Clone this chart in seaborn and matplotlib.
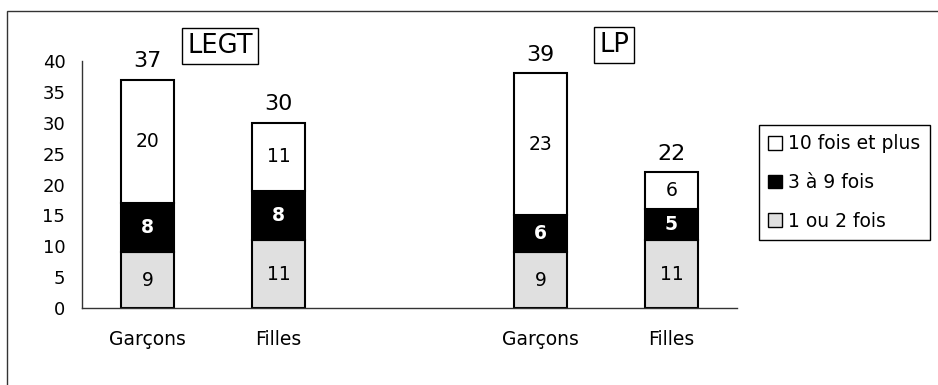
import numpy as np
import pandas as pd
import matplotlib.pyplot as plt
import seaborn as sns
from matplotlib.patches import Patch, Rectangle

# data
slots = ["LEGT-G", "LEGT-F", "", "LP-G", "LP-F"]
bar_ids = ["LEGT-G", "LEGT-F", "LP-G", "LP-F"]
tick_names = ["Garçons", "Filles", "", "Garçons", "Filles"]
un_deux = [9, 11, 9, 11]
trois_neuf = [8, 8, 6, 5]
dix_plus = [20, 11, 23, 6]
totaux = [37, 30, 39, 22]
series_names = ["1 ou 2 fois", "3 à 9 fois", "10 fois et plus"]
colors = ["#e0e0e0", "#000000", "#ffffff"]

sns.set_style("white")
plt.rcParams["font.family"] = ["DejaVu Sans"]
plt.rcParams["text.color"] = "black"
plt.rcParams["xtick.labelcolor"] = "black"
plt.rcParams["ytick.labelcolor"] = "black"

fig = plt.figure(figsize=(9.38, 3.85), dpi=100)
ax = fig.add_axes([82 / 938, 1 - 308 / 385, (737 - 82) / 938, (308 - 61) / 385])

df = pd.DataFrame({"id": bar_ids, "a": un_deux, "b": trois_neuf, "c": dix_plus})
df["base_b"] = df["a"]
df["base_c"] = df["a"] + df["b"]

layers = [("a", None), ("b", "base_b"), ("c", "base_c")]
for (col, base), color in zip(layers, colors):
    bottom = 0 if base is None else df[base].values
    sns.barplot(data=df, x="id", y=col, order=slots, color=color, width=0.4,
                bottom=bottom, edgecolor="black", linewidth=1.5, saturation=1,
                ax=ax, errorbar=None)

# labels inside segments
for i, bid in enumerate(bar_ids):
    xpos = slots.index(bid)
    a, b, c = un_deux[i], trois_neuf[i], dix_plus[i]
    ax.text(xpos, a / 2, str(a), ha="center", va="center", fontsize=13.5, color="black")
    ax.text(xpos, a + b / 2, str(b), ha="center", va="center", fontsize=13.5,
            color="white", fontweight="bold")
    ax.text(xpos, a + b + c / 2, str(c), ha="center", va="center", fontsize=13.5, color="black")
    ax.annotate(str(totaux[i]), (xpos, a + b + c), xytext=(0, 6),
                textcoords="offset points", ha="center", va="bottom", fontsize=16)

ax.set_xlim(-0.5, 4.5)
ax.set_ylim(0, 40)
ax.set_yticks(range(0, 41, 5))
ax.set_xticks(np.arange(-0.5, 5, 1))
ax.set_xticklabels([])
ax.set_xticks(range(5), minor=True)
ax.set_xticklabels(tick_names, minor=True)
ax.set_xlabel("")
ax.set_ylabel("")

for s in ["top", "right"]:
    ax.spines[s].set_visible(False)
for s in ["left", "bottom"]:
    ax.spines[s].set_color("#333333")
    ax.spines[s].set_linewidth(1.0)
ax.tick_params(axis="both", which="major", direction="inout", length=8,
               width=1.0, color="#333333", labelsize=13, labelcolor="black")
ax.tick_params(axis="y", pad=8)
ax.tick_params(axis="x", which="minor", length=0, pad=16, labelsize=13.5,
               labelcolor="black")

# group boxes
box = dict(boxstyle="square,pad=0.2", facecolor="white", edgecolor="black", linewidth=1)
fig.text(220 / 938, 1 - 46 / 385, "LEGT", ha="center", va="center", fontsize=18.5, bbox=box)
fig.text(614 / 938, 1 - 45 / 385, "LP", ha="center", va="center", fontsize=18.5, bbox=box)

handles = [Patch(facecolor=colors[k], edgecolor="black", linewidth=1, label=series_names[k])
           for k in [2, 1, 0]]
leg = fig.legend(handles=handles, loc="upper left", bbox_to_anchor=(759 / 938, 1 - 125 / 385),
                 fontsize=13.5, frameon=True, fancybox=False, framealpha=1,
                 edgecolor="black", handlelength=0.75, handleheight=0.75,
                 handletextpad=0.3, labelspacing=1.05, borderpad=0.5, borderaxespad=0)
leg.get_frame().set_linewidth(1)
for t in leg.get_texts():
    t.set_color("black")

# outer frame
fig.patches.append(Rectangle((7 / 938, -0.1), 1.2, 1.1 - 11 / 385,
                             transform=fig.transFigure, fill=False,
                             edgecolor="#333333", linewidth=1, clip_on=False))

fig.savefig("out.png", dpi=100)
